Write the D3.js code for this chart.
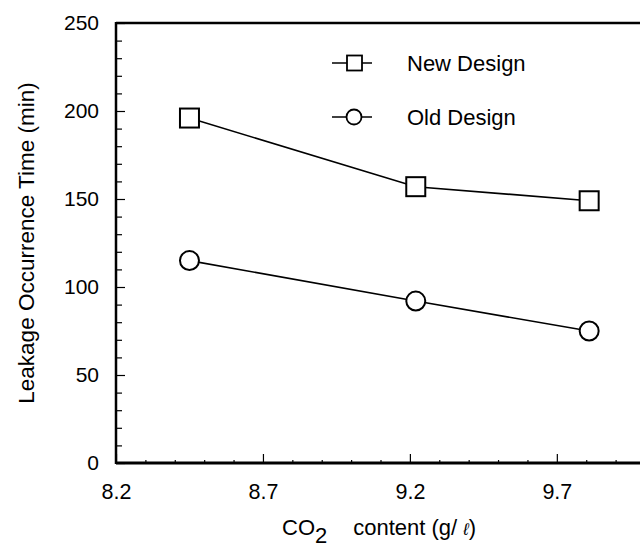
<!DOCTYPE html>
<html>
<head>
<meta charset="utf-8">
<script src="https://cdn.jsdelivr.net/npm/d3@7"></script>
<style>
  body { margin: 0; background: #fff; }
  svg { font-family: "Liberation Sans", Arial, sans-serif; }
</style>
</head>
<body>
<div></div>
<script>
const co2 = [8.45, 9.22, 9.81];
const newDesign = [196, 157, 149];
const oldDesign = [115, 92, 75];
const xTicks = [8.2, 8.7, 9.2, 9.7];
const yTicks = [0, 50, 100, 150, 200, 250];
const legendNames = ["New Design", "Old Design"];

const w = 640;
const h = 548;
const padLeft = 116;
const padTop = 23;
const plotBottom = 463;

const svg = d3.select("div").append("svg").attr("width", w).attr("height", h);

const xScale = d3.scaleLinear().domain([8.2, 10.0]).range([padLeft, 645]);
const yScale = d3.scaleLinear().domain([0, 250]).range([plotBottom, padTop]);

// minor ticks
const yMinor = d3.range(0, 251, 10).filter((v) => v % 50 !== 0);
svg
  .append("g")
  .attr("transform", "translate(" + padLeft + ",0)")
  .call(d3.axisRight(yScale).tickValues(yMinor).tickSize(6).tickFormat(""))
  .call((g) => g.select(".domain").remove());
const xMinor = d3.range(83, 100).map((v) => v / 10).filter((v) => !xTicks.includes(v));
svg
  .append("g")
  .attr("transform", "translate(0," + plotBottom + ")")
  .call(d3.axisTop(xScale).tickValues(xMinor).tickSize(3).tickFormat(""))
  .call((g) => g.select(".domain").remove());

// y axis
svg
  .append("g")
  .attr("id", "y-axis")
  .attr("transform", "translate(" + padLeft + ",0)")
  .call(d3.axisRight(yScale).tickValues(yTicks).tickSize(9).tickFormat(d3.format("d")))
  .call((g) => g.select(".domain").remove())
  .call((g) =>
    g
      .selectAll("text")
      .attr("x", -17)
      .attr("text-anchor", "end")
      .attr("font-size", 21)
      .attr("fill", "#000")
  );

// x axis
svg
  .append("g")
  .attr("id", "x-axis")
  .attr("transform", "translate(0," + plotBottom + ")")
  .call(d3.axisTop(xScale).tickValues(xTicks).tickSize(9).tickFormat(d3.format(".1f")))
  .call((g) => g.select(".domain").remove())
  .call((g) =>
    g
      .selectAll("text")
      .attr("y", 36)
      .attr("dy", 0)
      .attr("font-size", 21.5)
      .attr("fill", "#000")
  );

svg.selectAll(".tick line").attr("stroke", "#000").attr("stroke-width", 1.2);

// frame
svg
  .append("line")
  .attr("x1", padLeft).attr("x2", 645).attr("y1", padTop).attr("y2", padTop)
  .attr("stroke", "#000").attr("stroke-width", 2.5);
svg
  .append("line")
  .attr("x1", padLeft).attr("x2", 645).attr("y1", plotBottom).attr("y2", plotBottom)
  .attr("stroke", "#000").attr("stroke-width", 3);
svg
  .append("line")
  .attr("x1", padLeft).attr("x2", padLeft).attr("y1", padTop - 1).attr("y2", plotBottom + 1)
  .attr("stroke", "#000").attr("stroke-width", 2.5);

const line = d3
  .line()
  .x((d) => xScale(d[0]))
  .y((d) => yScale(d[1]));

const newPts = co2.map((c, i) => [c, newDesign[i]]);
const oldPts = co2.map((c, i) => [c, oldDesign[i]]);

svg.append("path").datum(newPts).attr("d", line)
  .attr("fill", "none").attr("stroke", "#000").attr("stroke-width", 1.6);
svg.append("path").datum(oldPts).attr("d", line)
  .attr("fill", "none").attr("stroke", "#000").attr("stroke-width", 1.6);

svg
  .selectAll(".sq")
  .data(newPts)
  .enter()
  .append("rect")
  .attr("class", "sq")
  .attr("x", (d) => xScale(d[0]) - 9.5)
  .attr("y", (d) => yScale(d[1]) - 9.5)
  .attr("width", 19)
  .attr("height", 19)
  .attr("fill", "#fff")
  .attr("stroke", "#000")
  .attr("stroke-width", 2);

svg
  .selectAll(".ci")
  .data(oldPts)
  .enter()
  .append("circle")
  .attr("class", "ci")
  .attr("cx", (d) => xScale(d[0]))
  .attr("cy", (d) => yScale(d[1]))
  .attr("r", 9.5)
  .attr("fill", "#fff")
  .attr("stroke", "#000")
  .attr("stroke-width", 2);

// legend
const legend = svg.append("g").attr("transform", "translate(332,63)");
legendNames.forEach((name, i) => {
  const row = legend.append("g").attr("transform", "translate(0," + i * 54 + ")");
  row.append("line").attr("x1", 0).attr("x2", 40).attr("y1", 0).attr("y2", 0)
    .attr("stroke", "#000").attr("stroke-width", 1.6);
  if (i === 0) {
    row.append("rect").attr("x", 15).attr("y", -7.5).attr("width", 15).attr("height", 15)
      .attr("fill", "#fff").attr("stroke", "#000").attr("stroke-width", 1.8);
  } else {
    row.append("circle").attr("cx", 22).attr("cy", 0).attr("r", 7.5)
      .attr("fill", "#fff").attr("stroke", "#000").attr("stroke-width", 1.8);
  }
  row.append("text").attr("x", 75).attr("y", 8).attr("font-size", 22).text(name);
});

// axis titles
svg
  .append("text")
  .attr("transform", "translate(34," + (padTop + plotBottom) / 2 + ") rotate(-90)")
  .attr("text-anchor", "middle")
  .attr("font-size", 22.5)
  .text("Leakage Occurrence Time (min)");

const xt = svg.append("text").attr("x", 282).attr("y", 535).attr("font-size", 22);
xt.append("tspan").text("CO");
xt.append("tspan").attr("dy", 8).text("2");
xt.append("tspan").attr("dy", -8).attr("dx", 26).text("content (g/ ");
xt.append("tspan").attr("font-style", "italic").attr("font-size", 17).text("ℓ");
xt.append("tspan").text(")");
</script>
</body>
</html>
